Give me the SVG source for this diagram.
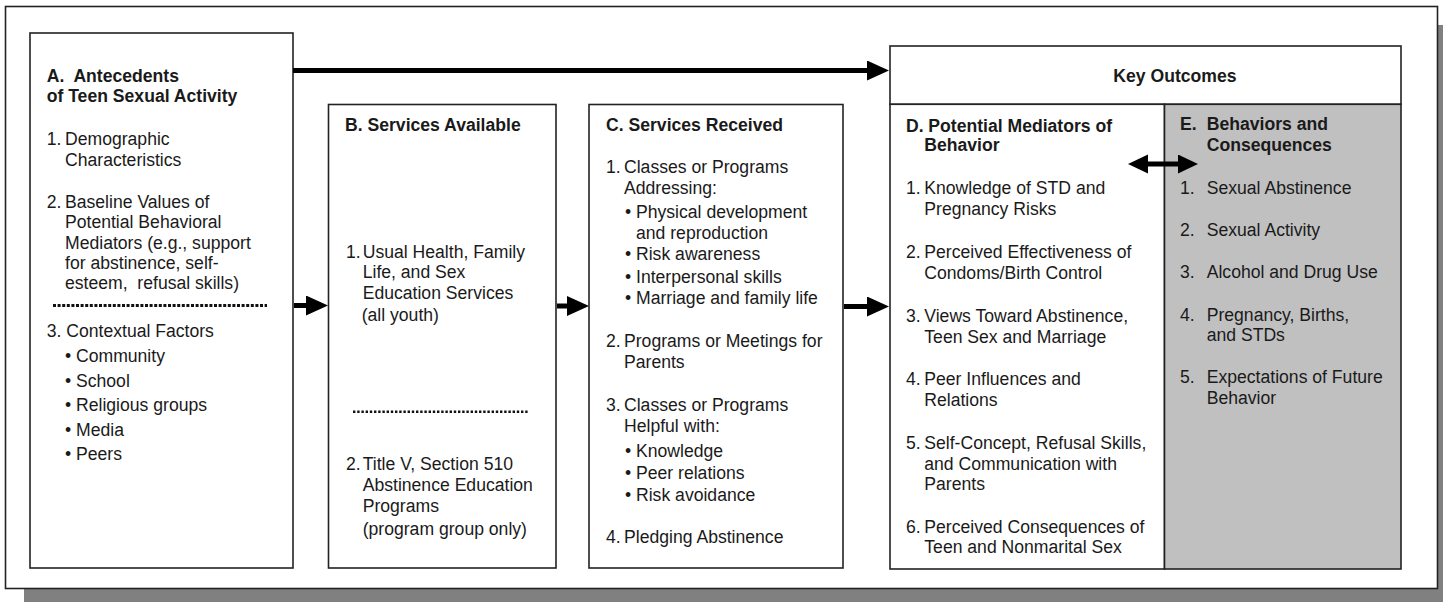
<svg xmlns="http://www.w3.org/2000/svg" width="1443" height="602" viewBox="0 0 1443 602">
<style>
  .box{fill:#fff;stroke:#222;stroke-width:1.6}
  .grey{fill:#c0c0c0;stroke:#222;stroke-width:1.6}
  text{font-family:"Liberation Sans",Arial,sans-serif;font-size:17.6px;fill:#1a1a1a}
  .b{font-weight:bold}
  .pre{white-space:pre}
  .arrow{stroke:#000;stroke-width:5;fill:none}
  .dots{stroke:#111;fill:none}
</style>
<defs>
  <marker id="ah" markerUnits="userSpaceOnUse" markerWidth="22" markerHeight="22" refX="15" refY="10" orient="auto">
    <path d="M0,0 L22,10 L0,20 z" fill="#000"/>
  </marker>
  <marker id="ah2" markerUnits="userSpaceOnUse" markerWidth="21" markerHeight="20" refX="14" refY="9.5" orient="auto-start-reverse">
    <path d="M0,0 L20,9.5 L0,19 z" fill="#000"/>
  </marker>
</defs>

<g id="frame">
  <rect x="24" y="25" width="1433" height="582" fill="#808080"/>
  <rect x="5.5" y="6.5" width="1432" height="582" class="box"/>
</g>

<g id="nodeA">
  <rect x="30" y="33" width="263" height="535" class="box"/>
  <text class="b pre" xml:space="preserve" x="46.7" y="82">A.  Antecedents</text>
  <text class="b" x="46.7" y="102">of Teen Sexual Activity</text>
  <text x="46.7" y="145">1.</text><text x="65" y="145">Demographic</text>
  <text x="65" y="165.7">Characteristics</text>
  <text x="46.7" y="208">2.</text><text x="65" y="208">Baseline Values of</text>
  <text x="65" y="228.3">Potential Behavioral</text>
  <text x="65" y="248.5">Mediators (e.g., support</text>
  <text x="65" y="268.7">for abstinence, self-</text>
  <text class="pre" xml:space="preserve" x="65" y="288.9">esteem,  refusal skills)</text>
  <line x1="53" y1="305.5" x2="267" y2="305.5" class="dots" stroke-width="3.2" stroke-dasharray="3 1.6"/>
  <text x="46.7" y="337">3. Contextual Factors</text>
  <text x="65" y="362">•</text><text x="76" y="362">Community</text>
  <text x="65" y="386.5">•</text><text x="76" y="386.5">School</text>
  <text x="65" y="411">•</text><text x="76" y="411">Religious groups</text>
  <text x="65" y="435.5">•</text><text x="76" y="435.5">Media</text>
  <text x="65" y="460">•</text><text x="76" y="460">Peers</text>
</g>

<g id="nodeB">
  <rect x="328.5" y="104.5" width="227.5" height="463.5" class="box"/>
  <text class="b" x="345" y="130.5">B. Services Available</text>
  <text x="346" y="257.7">1.</text><text x="362.7" y="257.7">Usual Health, Family</text>
  <text x="362.7" y="278.3">Life, and Sex</text>
  <text x="362.7" y="299">Education Services</text>
  <text x="361.7" y="320.7">(all youth)</text>
  <line x1="353" y1="411.7" x2="528" y2="411.7" class="dots" stroke-width="2.4" stroke-dasharray="2.4 1.8"/>
  <text x="346" y="470">2.</text><text x="362.7" y="470">Title V, Section 510</text>
  <text x="362.7" y="490.7">Abstinence Education</text>
  <text x="362.7" y="511.7">Programs</text>
  <text x="362.7" y="535">(program group only)</text>
</g>

<g id="nodeC">
  <rect x="589" y="104.5" width="254" height="463.5" class="box"/>
  <text class="b" x="606" y="130.5">C. Services Received</text>
  <text x="606" y="173.3">1.</text><text x="624" y="173.3">Classes or Programs</text>
  <text x="624" y="193.5">Addressing:</text>
  <text x="625" y="218.3">•</text><text x="636" y="218.3">Physical development</text>
  <text x="636" y="239">and reproduction</text>
  <text x="625" y="260.3">•</text><text x="636" y="260.3">Risk awareness</text>
  <text x="625" y="282.5">•</text><text x="636" y="282.5">Interpersonal skills</text>
  <text x="625" y="304.3">•</text><text x="636" y="304.3">Marriage and family life</text>
  <text x="606" y="347.3">2.</text><text x="624" y="347.3">Programs or Meetings for</text>
  <text x="624" y="368.3">Parents</text>
  <text x="606" y="411">3.</text><text x="624" y="411">Classes or Programs</text>
  <text x="624" y="431.7">Helpful with:</text>
  <text x="625" y="456.7">•</text><text x="636" y="456.7">Knowledge</text>
  <text x="625" y="479">•</text><text x="636" y="479">Peer relations</text>
  <text x="625" y="500.7">•</text><text x="636" y="500.7">Risk avoidance</text>
  <text x="606" y="543.3">4.</text><text x="624" y="543.3">Pledging Abstinence</text>
</g>

<g id="nodeKeyOutcomes">
  <rect x="890" y="46" width="511" height="58.3" class="box"/>
  <text class="b" x="1113.3" y="81.7">Key Outcomes</text>
</g>

<g id="nodeD">
  <rect x="890" y="104.3" width="274.5" height="464.7" class="box"/>
  <text class="b" x="906" y="131.5">D.</text><text class="b" x="928.3" y="131.5">Potential Mediators of</text>
  <text class="b" x="924.3" y="151.2">Behavior</text>
  <text x="906" y="194">1.</text><text x="924.3" y="194">Knowledge of STD and</text>
  <text x="924.3" y="215">Pregnancy Risks</text>
  <text x="906" y="258.3">2.</text><text x="924.3" y="258.3">Perceived Effectiveness of</text>
  <text x="924.3" y="279.3">Condoms/Birth Control</text>
  <text x="906" y="322">3.</text><text x="924.3" y="322">Views Toward Abstinence,</text>
  <text x="924.3" y="342.7">Teen Sex and Marriage</text>
  <text x="906" y="385">4.</text><text x="924.3" y="385">Peer Influences and</text>
  <text x="924.3" y="405.7">Relations</text>
  <text x="906" y="449">5.</text><text x="924.3" y="449">Self-Concept, Refusal Skills,</text>
  <text x="924.3" y="469.5">and Communication with</text>
  <text x="924.3" y="490">Parents</text>
  <text x="906" y="532.7">6.</text><text x="924.3" y="532.7">Perceived Consequences of</text>
  <text x="924.3" y="553.3">Teen and Nonmarital Sex</text>
</g>

<g id="nodeE">
  <rect x="1164.5" y="104.3" width="236.5" height="464.7" class="grey"/>
  <text class="b" x="1180" y="130">E.</text><text class="b" x="1206.7" y="130">Behaviors and</text>
  <text class="b" x="1206.7" y="150.5">Consequences</text>
  <text x="1180" y="193.5">1.</text><text x="1206.7" y="193.5">Sexual Abstinence</text>
  <text x="1180" y="235.5">2.</text><text x="1206.7" y="235.5">Sexual Activity</text>
  <text x="1180" y="278.3">3.</text><text x="1206.7" y="278.3">Alcohol and Drug Use</text>
  <text x="1180" y="320.7">4.</text><text x="1206.7" y="320.7">Pregnancy, Births,</text>
  <text x="1206.7" y="340.5">and STDs</text>
  <text x="1180" y="383.3">5.</text><text x="1206.7" y="383.3">Expectations of Future</text>
  <text x="1206.7" y="403.5">Behavior</text>
</g>

<g id="connectors">
  <line x1="293" y1="70.5" x2="882" y2="70.5" class="arrow" marker-end="url(#ah)"/>
  <line x1="294" y1="305.5" x2="321" y2="305.5" class="arrow" marker-end="url(#ah)"/>
  <line x1="557" y1="306" x2="582" y2="306" class="arrow" marker-end="url(#ah)"/>
  <line x1="844" y1="306.5" x2="882" y2="306.5" class="arrow" marker-end="url(#ah)"/>
  <line x1="1134" y1="164" x2="1192" y2="164" class="arrow" stroke-width="4.2" marker-start="url(#ah2)" marker-end="url(#ah2)"/>
</g>
</svg>
